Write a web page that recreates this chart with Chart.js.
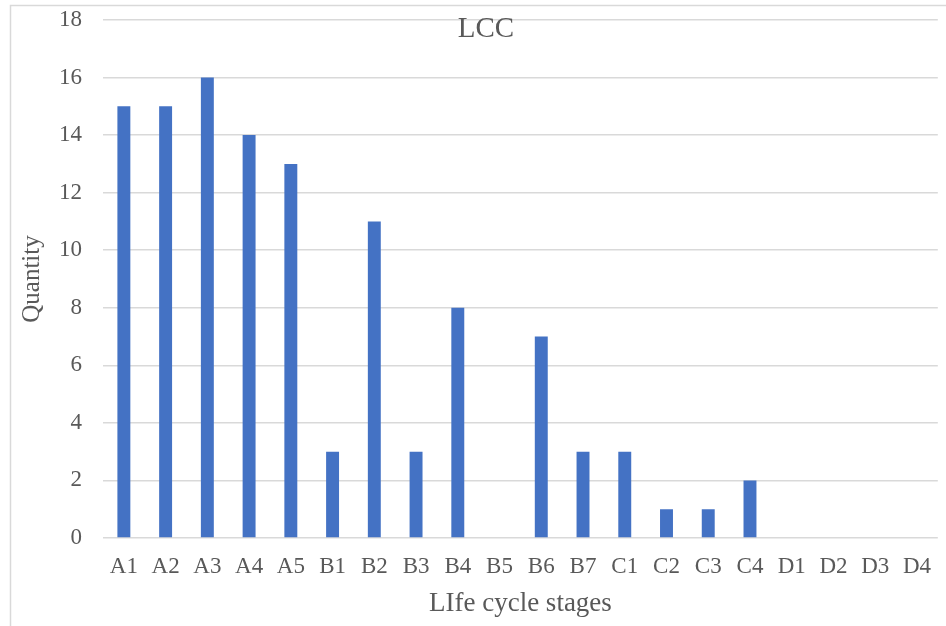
<!DOCTYPE html>
<html>
<head>
  <title>LCC</title>
  <script src="https://cdn.jsdelivr.net/npm/chart.js"></script>
  <style>
    body { margin: 0; background: #fff; }
  </style>
</head>
<body>
  <div style="width: 946px; height: 626px;">
    <canvas id="lccChart"></canvas>
  </div>

  <script>
    const stages = ['A1', 'A2', 'A3', 'A4', 'A5', 'B1', 'B2', 'B3', 'B4', 'B5',
                    'B6', 'B7', 'C1', 'C2', 'C3', 'C4', 'D1', 'D2', 'D3', 'D4'];
    const quantities = [15, 15, 16, 14, 13, 3, 11, 3, 8, 0,
                        7, 3, 3, 1, 1, 2, 0, 0, 0, 0];
    const chartTitle = 'LCC';

    const textColor = '#595959';
    const serif = "'Liberation Serif', 'Times New Roman', serif";

    // frame + title, drawn like the Excel chart (title overlaps plot area)
    const framePlugin = {
      id: 'frame',
      beforeDraw(chart) {
        const ctx = chart.ctx;
        ctx.save();
        ctx.fillStyle = '#fff';
        ctx.fillRect(0, 0, chart.width, chart.height);
        ctx.strokeStyle = '#d9d9d9';
        ctx.lineWidth = 1.5;
        ctx.strokeRect(10.5, 5.5, chart.width + 20, chart.height + 20);
        ctx.restore();
      },
      afterDraw(chart) {
        const ctx = chart.ctx;
        ctx.save();
        ctx.font = '29px ' + serif;
        ctx.fillStyle = textColor;
        ctx.textAlign = 'center';
        ctx.textBaseline = 'middle';
        ctx.fillText(chartTitle, 486, 29);
        ctx.restore();
      }
    };

    new Chart(document.getElementById('lccChart'), {
      type: 'bar',
      data: {
        labels: stages,
        datasets: [{
          label: 'Quantity',
          data: quantities,
          backgroundColor: '#4472C4',
          barPercentage: 0.31,
          categoryPercentage: 1
        }]
      },
      options: {
        responsive: true,
        maintainAspectRatio: false,
        animation: false,
        layout: { padding: { top: 20, left: 0, right: 0, bottom: 0 } },
        plugins: {
          legend: { display: false },
          tooltip: { enabled: false }
        },
        scales: {
          x: {
            grid: { display: false, drawTicks: false },
            border: { display: false },
            ticks: { color: textColor, font: { family: serif, size: 23 }, padding: 15, maxRotation: 0 },
            title: {
              display: true,
              text: 'LIfe cycle stages',
              color: textColor,
              font: { family: serif, size: 27, lineHeight: 1.2 },
              padding: { top: 0, bottom: 6 }
            },
            afterFit(scale) { scale.height = 88; }
          },
          y: {
            min: 0,
            max: 18,
            ticks: { stepSize: 2, color: textColor, font: { family: serif, size: 23 }, padding: 21 },
            grid: { color: '#d9d9d9', lineWidth: 1.5, drawTicks: false },
            border: { display: false },
            title: {
              display: true,
              text: 'Quantity',
              color: textColor,
              font: { family: serif, size: 25, lineHeight: 1.2 },
              padding: { top: 17, bottom: 0 }
            },
            afterFit(scale) {
              scale.width = 103;
              scale.paddingTop = 0;
              scale.paddingBottom = 0;
            }
          }
        }
      },
      plugins: [framePlugin]
    });
  </script>
</body>
</html>
